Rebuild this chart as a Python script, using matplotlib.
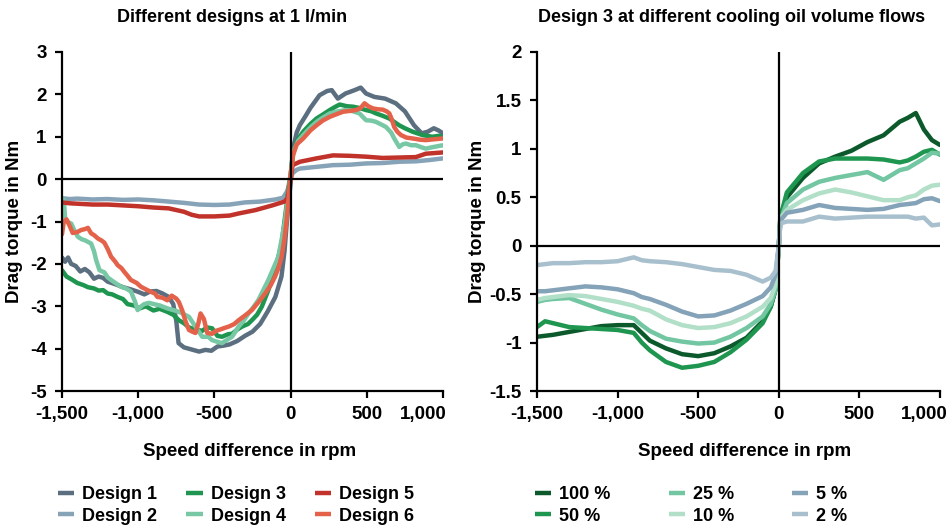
import matplotlib
matplotlib.use("Agg")
import matplotlib.pyplot as plt
from matplotlib.transforms import ScaledTranslation

plt.rcParams['font.family'] = ['Liberation Sans', 'DejaVu Sans']
plt.rcParams['font.weight'] = 'bold'

# ---------------- Left panel: different designs at 1 l/min ----------------
left_title = "Different designs at 1 l/min"
left_labels = ["Design 1", "Design 2", "Design 3", "Design 4", "Design 5", "Design 6"]
left_colors = ["#5b6f80", "#86a3b8", "#1e9650", "#78c8a5", "#c0322a", "#e4624a"]

d1_x = [-1500, -1480, -1460, -1440, -1410, -1380, -1350, -1320, -1290, -1260, -1230, -1200, -1150, -1100,
        -1050, -1000, -960, -920, -880, -840, -800, -770, -750, -735, -700, -650, -600, -560, -520, -480,
        -440, -400, -350, -300, -250, -200, -150, -100, -60, -40, -20, 0, 15, 40, 60, 100, 130, 190, 240,
        270, 310, 360, 420, 460, 495, 550, 620, 690, 750, 810, 860, 900, 940, 970, 1000]
d1_y = [-1.85, -1.95, -1.85, -2.0, -2.05, -2.18, -2.12, -2.2, -2.35, -2.3, -2.33, -2.42, -2.48, -2.55,
        -2.6, -2.66, -2.72, -2.65, -2.64, -2.7, -2.78, -2.95, -3.35, -3.87, -3.97, -4.02, -4.07, -4.03, -4.05, -3.95,
        -3.93, -3.9, -3.82, -3.7, -3.6, -3.42, -3.12, -2.78, -2.3, -1.7, -0.8, -0.1, 0.7, 1.1, 1.27, 1.5, 1.68, 1.98, 2.08,
        2.1, 1.9, 2.02, 2.1, 2.16, 2.02, 1.94, 1.9, 1.79, 1.6, 1.27, 1.08, 1.12, 1.2, 1.15, 1.08]

d2_x = [-1500, -1450, -1400, -1300, -1200, -1100, -1000, -900, -800, -700, -600, -500, -400, -300, -200,
        -100, -50, -25, -10, 0, 13, 40, 61, 170, 278, 387, 495, 604, 713, 822, 909, 1000]
d2_y = [-0.45, -0.47, -0.46, -0.48, -0.47, -0.49, -0.48, -0.5, -0.53, -0.56, -0.6, -0.61, -0.6, -0.55, -0.53,
        -0.48, -0.44, -0.3, -0.15, 0.0, 0.14, 0.22, 0.25, 0.29, 0.33, 0.34, 0.37, 0.38, 0.41, 0.42, 0.45, 0.49]

d3_x = [-1500, -1470, -1440, -1400, -1360, -1330, -1290, -1260, -1230, -1200, -1170, -1135, -1100, -1070,
        -1030, -990, -950, -900, -860, -810, -770, -733, -700, -667, -620, -580, -550, -515, -480, -450,
        -410, -384, -350, -319, -280, -254, -220, -189, -146, -102, -59, -26, -10, 0, 17, 50, 83, 130, 170,
        210, 257, 290, 322, 370, 409, 450, 495, 530, 561, 600, 648, 680, 713, 750, 800, 865, 930, 970, 1000]
d3_y = [-2.15, -2.3, -2.36, -2.45, -2.5, -2.55, -2.58, -2.63, -2.62, -2.7, -2.72, -2.78, -2.83, -2.95,
        -2.98, -3.05, -3.0, -3.1, -3.06, -3.13, -3.2, -3.33, -3.4, -3.5, -3.55, -3.58, -3.5, -3.52, -3.7, -3.72,
        -3.66, -3.65, -3.55, -3.48, -3.42, -3.33, -3.2, -3.01, -2.62, -2.15, -1.52, -0.6, -0.1, 0.1, 0.64, 0.95, 1.12, 1.3, 1.43,
        1.52, 1.63, 1.7, 1.76, 1.72, 1.71, 1.68, 1.63, 1.6, 1.55, 1.5, 1.43, 1.35, 1.27, 1.2, 1.12, 1.04, 1.0, 1.02, 1.0]

d4_x = [-1500, -1488, -1480, -1470, -1439, -1420, -1396, -1370, -1352, -1330, -1309, -1290, -1276, -1254,
        -1222, -1200, -1178, -1150, -1113, -1080, -1048, -1020, -1004, -980, -961, -930, -896, -860, -809,
        -760, -720, -667, -624, -580, -540, -515, -480, -450, -420, -384, -341, -310, -276, -240, -211, -146,
        -80, -37, -10, 0, 17, 50, 83, 130, 170, 210, 257, 310, 365, 410, 452, 495, 530, 561, 600, 626, 660,
        680, 713, 735, 756, 790, 822, 860, 887, 940, 1000]
d4_y = [-0.45, -0.5, -0.9, -1.0, -1.05, -1.2, -1.36, -1.42, -1.44, -1.48, -1.52, -1.7, -1.91, -2.15,
        -2.2, -2.32, -2.38, -2.45, -2.54, -2.58, -2.65, -2.9, -3.09, -3.0, -2.95, -2.92, -2.95, -2.98, -3.05,
        -3.1, -3.15, -3.25, -3.48, -3.72, -3.72, -3.8, -3.84, -3.87, -3.8, -3.72, -3.48, -3.35, -3.17, -3.0, -2.85, -2.38,
        -1.83, -1.0, -0.2, 0.1, 0.64, 0.9, 1.04, 1.22, 1.35, 1.45, 1.55, 1.6, 1.63, 1.6, 1.55, 1.39, 1.38, 1.35, 1.28, 1.23, 1.1,
        0.96, 0.76, 0.82, 0.84, 0.8, 0.8, 0.75, 0.72, 0.76, 0.8]

d5_x = [-1500, -1450, -1400, -1300, -1200, -1100, -1000, -900, -800, -700, -650, -600, -500, -400, -340,
        -230, -120, -40, -20, -8, 0, 13, 61, 170, 278, 387, 495, 604, 713, 822, 887, 1000]
d5_y = [-0.55, -0.57, -0.58, -0.6, -0.6, -0.62, -0.64, -0.67, -0.69, -0.77, -0.84, -0.88, -0.88, -0.86, -0.81,
        -0.73, -0.62, -0.53, -0.45, -0.2, 0.0, 0.33, 0.41, 0.49, 0.56, 0.55, 0.53, 0.5, 0.51, 0.52, 0.6, 0.63]

d6_x = [-1500, -1488, -1470, -1450, -1430, -1400, -1374, -1350, -1330, -1309, -1290, -1265, -1240, -1222,
        -1200, -1178, -1150, -1135, -1110, -1091, -1070, -1048, -1010, -982, -950, -917, -890, -874, -840,
        -809, -780, -750, -733, -711, -690, -667, -645, -624, -605, -591, -569, -547, -515, -490, -471, -440,
        -406, -370, -341, -300, -254, -210, -167, -130, -102, -80, -59, -40, -26, -10, 0, 17, 40, 83, 130,
        170, 210, 257, 300, 344, 390, 430, 460, 485, 510, 539, 570, 604, 630, 648, 665, 680, 700, 724, 760,
        800, 850, 887, 940, 1000]
d6_y = [-1.3, -1.0, -0.95, -1.1, -1.27, -1.25, -1.2, -1.18, -1.15, -1.28, -1.32, -1.4, -1.45, -1.5,
        -1.65, -1.83, -1.95, -2.03, -2.1, -2.19, -2.28, -2.38, -2.45, -2.54, -2.6, -2.66, -2.7, -2.78, -2.8,
        -2.86, -2.75, -2.82, -2.9, -3.1, -3.35, -3.56, -3.6, -3.63, -3.4, -3.17, -3.3, -3.63, -3.65, -3.58, -3.56, -3.52,
        -3.48, -3.42, -3.33, -3.22, -3.09, -2.9, -2.7, -2.5, -2.3, -2.1, -1.83, -1.4, -0.97, -0.3, 0.1, 0.57, 0.82, 0.96, 1.15,
        1.27, 1.38, 1.47, 1.53, 1.59, 1.61, 1.63, 1.68, 1.79, 1.72, 1.67, 1.65, 1.64, 1.6, 1.55, 1.4, 1.23, 1.12, 1.04, 0.98,
        0.96, 0.93, 0.92, 0.94, 0.96]

left_x = [d1_x, d2_x, d3_x, d4_x, d5_x, d6_x]
left_y = [d1_y, d2_y, d3_y, d4_y, d5_y, d6_y]

# ---------------- Right panel: Design 3 at different volume flows ----------------
right_title = "Design 3 at different cooling oil volume flows"
right_labels = ["100 %", "50 %", "25 %", "10 %", "5 %", "2 %"]
right_colors = ["#0c5a2c", "#1e9650", "#72c6a2", "#b2dfc8", "#84a2b8", "#a8c0cd"]

xr = [-1500, -1450, -1400, -1300, -1200, -1100, -1000, -900, -850, -800, -700, -600, -500, -400, -300,
      -200, -100, -50, -20, 0, 10, 50, 150, 250, 350, 450, 550, 650, 750, 800, 850, 900, 950, 1000]
f100 = [-0.94, -0.93, -0.92, -0.89, -0.86, -0.83, -0.82, -0.82, -0.9, -0.98, -1.06, -1.12, -1.14, -1.11, -1.04,
        -0.95, -0.78, -0.63, -0.45, 0.0, 0.3, 0.5, 0.7, 0.85, 0.92, 0.98, 1.07, 1.14, 1.28, 1.32, 1.37, 1.2, 1.09, 1.04]
f50 = [-0.84, -0.78, -0.8, -0.84, -0.85, -0.86, -0.87, -0.9, -1.0, -1.08, -1.2, -1.26, -1.24, -1.2, -1.1,
       -0.97, -0.8, -0.63, -0.45, 0.0, 0.3, 0.55, 0.75, 0.87, 0.9, 0.9, 0.9, 0.89, 0.86, 0.88, 0.92, 0.97, 0.99, 0.94]
f25 = [-0.58, -0.56, -0.55, -0.54, -0.6, -0.66, -0.71, -0.75, -0.82, -0.88, -0.96, -0.99, -1.01, -1.0, -0.94,
       -0.85, -0.73, -0.6, -0.45, 0.0, 0.27, 0.44, 0.58, 0.66, 0.7, 0.73, 0.76, 0.68, 0.78, 0.8, 0.85, 0.9, 0.96, 0.95]
f10 = [-0.56, -0.54, -0.53, -0.51, -0.52, -0.55, -0.58, -0.62, -0.65, -0.67, -0.76, -0.82, -0.85, -0.84, -0.8,
       -0.73, -0.63, -0.54, -0.4, 0.0, 0.28, 0.37, 0.47, 0.54, 0.58, 0.55, 0.51, 0.47, 0.47, 0.5, 0.52, 0.58, 0.62, 0.63]
f5 = [-0.47, -0.47, -0.46, -0.44, -0.42, -0.43, -0.45, -0.49, -0.53, -0.55, -0.61, -0.68, -0.73, -0.72, -0.67,
      -0.6, -0.52, -0.43, -0.3, 0.0, 0.26, 0.34, 0.37, 0.42, 0.39, 0.38, 0.37, 0.38, 0.42, 0.43, 0.44, 0.48, 0.49, 0.46]
f2 = [-0.2, -0.19, -0.18, -0.18, -0.17, -0.17, -0.16, -0.12, -0.15, -0.16, -0.17, -0.19, -0.22, -0.25, -0.26,
      -0.3, -0.37, -0.33, -0.26, 0.0, 0.23, 0.25, 0.25, 0.3, 0.28, 0.29, 0.3, 0.3, 0.3, 0.3, 0.28, 0.29, 0.21, 0.22]
right_y = [f100, f50, f25, f10, f5, f2]

left_yticks = [3, 2, 1, 0, -1, -2, -3, -4, -5]
right_yticks = [2, 1.5, 1, 0.5, 0, -0.5, -1, -1.5]
right_yticklabels = ["2", "1.5", "1", "0.5", "0", "-0.5", "-1", "-1.5"]
xticks = [-1500, -1000, -500, 0, 500, 1000]
xticklabels = ["-1,500", "-1,000", "-500", "0", "500", "1,000"]

FS = 13.5
W, H = 953, 532
fig = plt.figure(figsize=(W / 100, H / 100), dpi=100)
axL = fig.add_axes([62 / W, 1 - 391 / H, (443 - 62) / W, (391 - 52) / H])
axR = fig.add_axes([537 / W, 1 - 391 / H, (940 - 537) / W, (391 - 52) / H])

LW = 3.2
hl = []
for xs, ys, c, lab in zip(left_x, left_y, left_colors, left_labels):
    h, = axL.plot(xs, ys, color=c, lw=LW, label=lab, solid_joinstyle='round', solid_capstyle='round')
    hl.append(h)
hr = []
for ys, c, lab in zip(right_y, right_colors, right_labels):
    h, = axR.plot(xr, ys, color=c, lw=LW, label=lab, solid_joinstyle='round', solid_capstyle='round')
    hr.append(h)

for ax, ylim, yt, ytl, dx in [(axL, (-5, 3), left_yticks, [str(v) for v in left_yticks], 4),
                              (axR, (-1.5, 2), right_yticks, right_yticklabels, 8)]:
    ax.set_xlim(-1500, 1000)
    ax.set_ylim(*ylim)
    ax.axhline(0, color='black', lw=1.6, zorder=5)
    ax.axvline(0, color='black', lw=1.6, zorder=5)
    for s in ['top', 'right']:
        ax.spines[s].set_visible(False)
    for s in ['left', 'bottom']:
        ax.spines[s].set_linewidth(1.6)
        ax.spines[s].set_color('black')
    ax.set_xticks(xticks)
    ax.set_xticklabels(xticklabels)
    ax.set_yticks(yt)
    ax.set_yticklabels(ytl)
    ax.tick_params(axis='both', direction='out', length=5, width=1.6, labelsize=FS, pad=6)
    for t in ax.get_xticklabels() + ax.get_yticklabels():
        t.set_fontweight('bold')
    last = ax.get_xticklabels()[-1]
    last.set_horizontalalignment('right')
    last.set_transform(last.get_transform() + ScaledTranslation(dx / 100, 0, fig.dpi_scale_trans))
    ax.patch.set_alpha(0)

fig.text(232 / W, 1 - 18 / H, left_title, ha='center', va='center', fontsize=13, fontweight='bold')
fig.text(732 / W, 1 - 18 / H, right_title, ha='center', va='center', fontsize=13, fontweight='bold')
fig.text(250 / W, 1 - 452 / H, "Speed difference in rpm", ha='center', va='center', fontsize=FS, fontweight='bold')
fig.text(745 / W, 1 - 452 / H, "Speed difference in rpm", ha='center', va='center', fontsize=FS, fontweight='bold')
fig.text(15 / W, 1 - 221 / H, "Drag torque in Nm", ha='center', va='center', rotation=90, fontsize=FS, fontweight='bold')
fig.text(478 / W, 1 - 221 / H, "Drag torque in Nm", ha='center', va='center', rotation=90, fontsize=FS, fontweight='bold')

leg_kw = dict(ncol=3, frameon=False, handlelength=0.9, handletextpad=0.45, columnspacing=1.6,
              labelspacing=0.25, borderpad=0, borderaxespad=0,
              prop={'weight': 'bold', 'size': 13})
lg1 = fig.legend(handles=hl, loc='upper left', bbox_to_anchor=(58 / W, 1 - 486 / H), **leg_kw)
lg2 = fig.legend(handles=hr, loc='upper left', bbox_to_anchor=(535 / W, 1 - 486 / H), **dict(leg_kw, columnspacing=3.2))
for lg in (lg1, lg2):
    for l in lg.get_lines():
        l.set_linewidth(3.2)
        l.set_solid_capstyle('butt')

fig.savefig("out.png", dpi=100)
